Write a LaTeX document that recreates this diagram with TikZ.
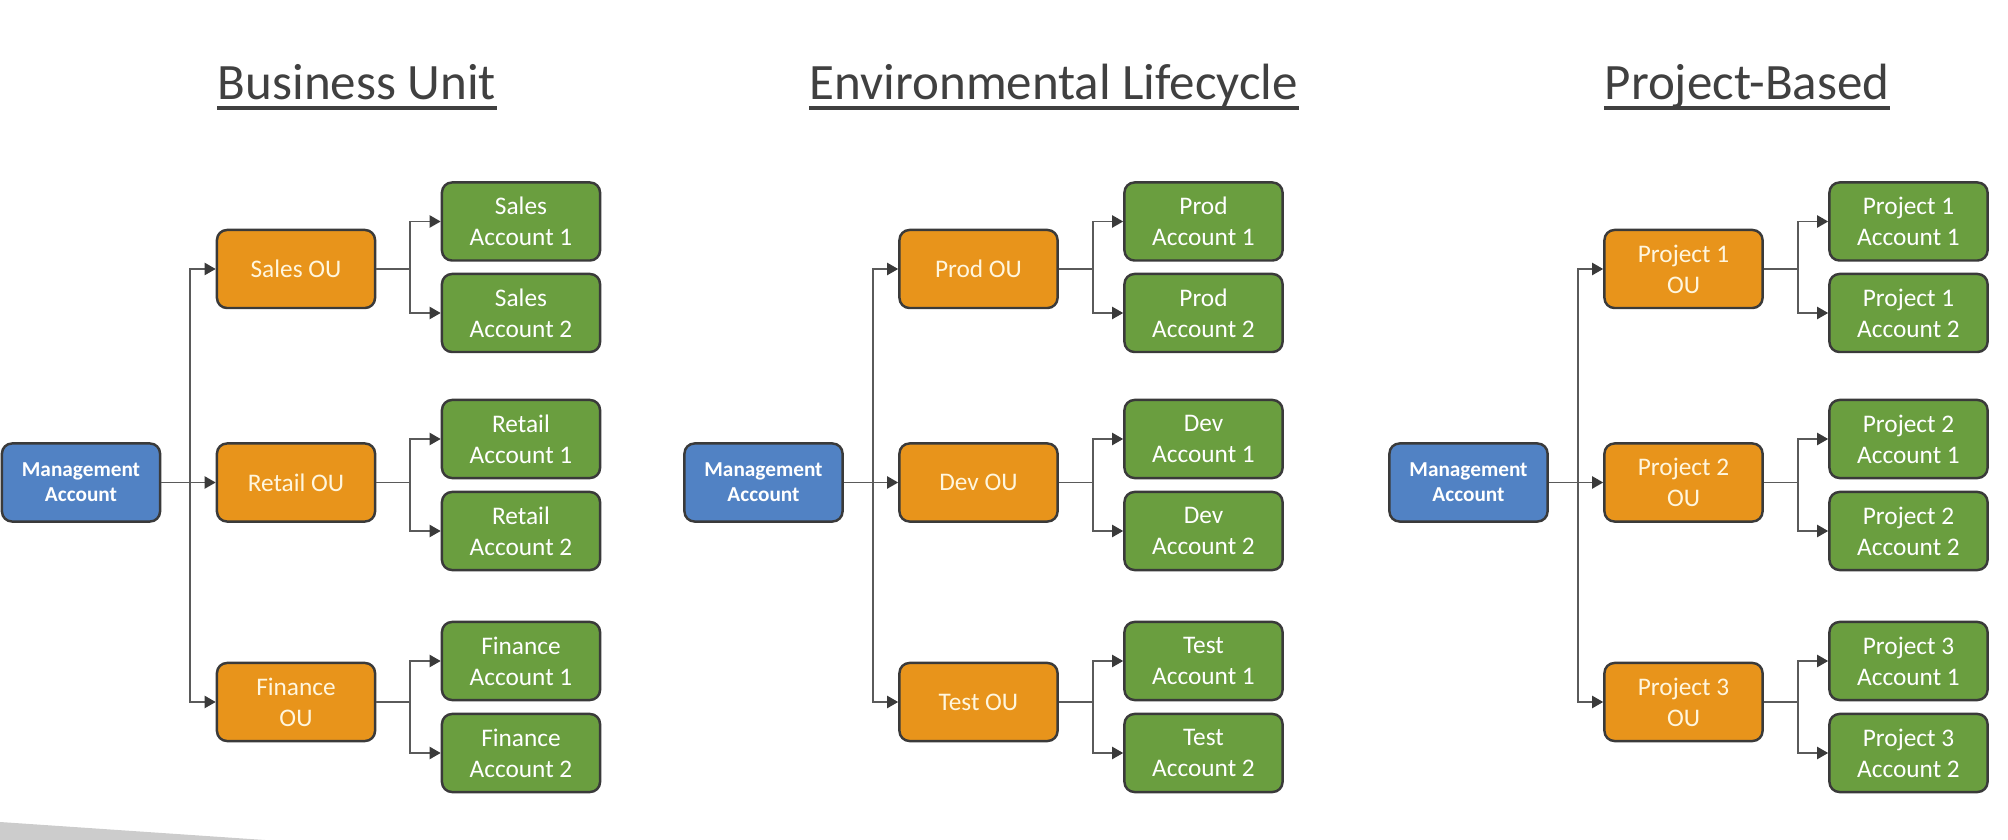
\documentclass[tikz,border=0pt]{standalone}
\usepackage{fontspec}
\setmainfont{Carlito}
\usetikzlibrary{arrows.meta}
\definecolor{mgmtblue}{HTML}{5182C4}
\definecolor{ouorange}{HTML}{E8941B}
\definecolor{oucream}{HTML}{FFF6DE}
\definecolor{accgreen}{HTML}{6A9E3F}
\definecolor{boxline}{HTML}{3A3A3A}
\definecolor{linegray}{HTML}{5A5A5A}
\definecolor{titlegray}{HTML}{404040}
\definecolor{wedgegray}{HTML}{CCCCCC}
\tikzset{
  box/.style={draw=boxline, line width=0.7pt, rounded corners=0.1cm,
    minimum width=1.58cm, minimum height=0.78cm, inner sep=0pt,
    align=center, text=white, font=\fontsize{7.2}{8.8}\selectfont},
  mgmt/.style={box, fill=mgmtblue, font=\bfseries\fontsize{6.05}{7.1}\selectfont},
  ou/.style={box, fill=ouorange, text=oucream},
  acct/.style={box, fill=accgreen},
  conn/.style={draw=linegray, line width=0.55pt,
    -{Triangle[length=0.11cm, width=0.12cm, color=boxline]}},
  heading/.style={text=titlegray, inner sep=0pt, anchor=base,
    font=\fontsize{14.5}{17}\selectfont}
}

\begin{document}
\begin{tikzpicture}[x=0.01cm, y=-0.01cm]
  % one tree: tag, x offset, three OU labels, three account prefixes
  \def\orgtree#1#2#3#4#5#6#7#8{%
    \begin{scope}[shift={(#2,0)}]
      \node[mgmt] (#1m) at (81,482.5) {Management\\Account};
      \node[ou] (#1o1) at (296,269) {#3};
      \node[ou] (#1o2) at (296,482.5) {#4};
      \node[ou] (#1o3) at (296,702) {#5};
      \node[acct] (#1o1a) at (521,221.5) {#6\\Account 1};
      \node[acct] (#1o1b) at (521,313) {#6\\Account 2};
      \node[acct] (#1o2a) at (521,439) {#7\\Account 1};
      \node[acct] (#1o2b) at (521,531) {#7\\Account 2};
      \node[acct] (#1o3a) at (521,661) {#8\\Account 1};
      \node[acct] (#1o3b) at (521,753) {#8\\Account 2};
      \draw[conn] (#1m) -- (#1o2);
      \draw[conn] (#1m.east) -- ++(29,0) |- (#1o1);
      \draw[conn] (#1m.east) -- ++(29,0) |- (#1o3);
      \foreach \i in {1,2,3} {
        \draw[conn] (#1o\i.east) -- ++(34,0) |- (#1o\i a);
        \draw[conn] (#1o\i.east) -- ++(34,0) |- (#1o\i b);
      }
    \end{scope}}

  \useasboundingbox (0,0) rectangle (2008,840);
  \fill[wedgegray] (0,822) -- (265,840) -- (0,840) -- cycle;

  % headings
  \node[heading] (bu) at (357,100) {Business Unit};
  \node[heading] (el) at (1054,100) {Environmental Lifecycle};
  \node[heading] (pb) at (1747,100) {Project-Based};
  \foreach \t in {bu,el,pb}
    \draw[titlegray, line width=1.1pt] ([yshift=-0.08cm]\t.base west) -- ([yshift=-0.08cm]\t.base east);

  \orgtree{bu}{0}{Sales OU}{Retail OU}{Finance\\OU}{Sales}{Retail}{Finance}
  \orgtree{el}{682.5}{Prod OU}{Dev OU}{Test OU}{Prod}{Dev}{Test}
  \orgtree{pb}{1387.5}{Project 1\\OU}{Project 2\\OU}{Project 3\\OU}{Project 1}{Project 2}{Project 3}
\end{tikzpicture}
\end{document}
